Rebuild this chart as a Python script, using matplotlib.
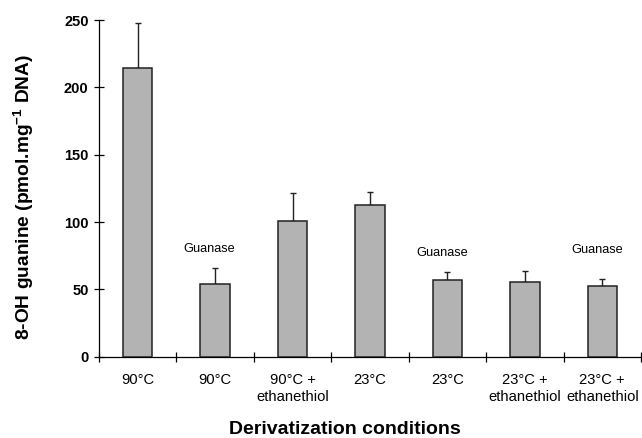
import matplotlib
matplotlib.use("Agg")
import matplotlib.pyplot as plt
import numpy as np

categories = ["90°C", "90°C", "90°C +\nethanethiol", "23°C", "23°C",
              "23°C +\nethanethiol", "23°C +\nethanethiol"]
values = [214, 54, 100.5, 113, 56.7, 55.2, 52.5]
errors = [33.5, 11.6, 21.3, 9.1, 6.2, 8.2, 5.0]
annotations = ["", "Guanase", "", "", "Guanase", "", "Guanase"]
annot_y = [0, 80, 0, 0, 77, 0, 79]
yticks = [0, 50, 100, 150, 200, 250]

plt.rcParams['font.family'] = ['Liberation Sans', 'DejaVu Sans']
plt.rcParams['mathtext.fontset'] = 'custom'
plt.rcParams['mathtext.rm'] = 'Liberation Sans'
plt.rcParams['mathtext.bf'] = 'Liberation Sans:bold'

fig = plt.figure(figsize=(6.42, 4.38), dpi=100)
ax = fig.add_axes([99/642, 1-356.7/438, 542/642, 336.7/438])

x = np.arange(len(values))
ax.bar(x, values, width=0.38, color='#b3b3b3', edgecolor='#222222', linewidth=1.1, zorder=3)
ax.errorbar(x, values, yerr=[np.zeros(len(errors)), errors], fmt='none',
            ecolor='#222222', elinewidth=1.0, capsize=2.5, capthick=1.0, zorder=2)

for xi, txt, yy in zip(x, annotations, annot_y):
    if txt:
        ax.text(xi - 0.07, yy, txt, ha='center', va='center', fontsize=9.2)

ax.set_xlim(-0.5, len(values) - 0.5)
ax.set_ylim(0, 250)
ax.set_yticks(yticks)
ax.set_yticklabels([str(t) for t in yticks], fontweight='bold', fontsize=10.5)
ax.tick_params(axis='y', direction='inout', length=7, width=0.9, pad=4)

ax.set_xticks(np.arange(-0.5, len(values) + 0.5, 1.0))
ax.set_xticklabels([])
ax.tick_params(axis='x', which='major', direction='inout', length=7, width=0.9)
ax.set_xticks(x, minor=True)
ax.set_xticklabels(categories, minor=True, fontsize=10.6)
ax.tick_params(axis='x', which='minor', length=0, pad=12)

for s in ['top', 'right']:
    ax.spines[s].set_visible(False)
for s in ['left', 'bottom']:
    ax.spines[s].set_linewidth(0.9)

fig.text(345/642, 1-434/438, "Derivatization conditions", ha='center', va='baseline',
         fontsize=14, fontweight='bold')
fig.text(24/642, 1-197.5/438, r"8-OH guanine (pmol.mg$^{\mathbf{-1}}$ DNA)", rotation=90,
         ha='center', va='center', fontsize=13.8, fontweight='bold')

fig.savefig("out.png", dpi=100)
